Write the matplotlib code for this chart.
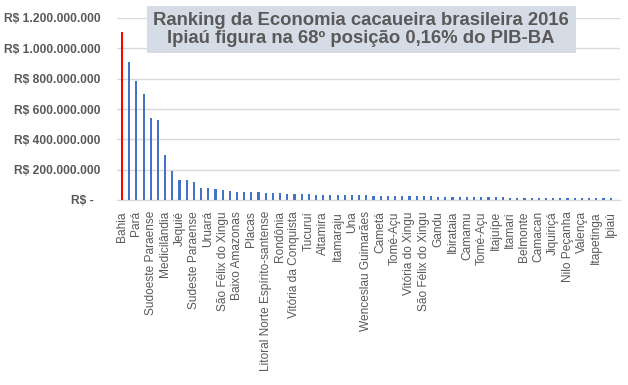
import numpy as np
import matplotlib
matplotlib.use("Agg")
import matplotlib.pyplot as plt
from matplotlib.patches import Rectangle

plt.rcParams['font.family'] = ['Liberation Sans', 'DejaVu Sans']

# valores em R$ (leitura aproximada do grafico), ordem do ranking
valores = [1108e6, 910e6, 785e6, 699e6, 541e6, 527e6, 297e6, 191e6, 132e6, 132e6,
           119e6, 79e6, 79e6, 72e6, 66e6, 59e6, 53e6, 53e6, 53e6, 53e6,
           46e6, 46e6, 46e6, 40e6, 40e6, 40e6, 40e6, 33e6, 33e6, 33e6,
           33e6, 33e6, 33e6, 33e6, 33e6, 26e6, 26e6, 26e6, 26e6, 26e6,
           26e6, 26e6, 26e6, 26e6, 20e6, 20e6, 20e6, 20e6, 20e6, 20e6,
           20e6, 20e6, 20e6, 20e6, 13e6, 13e6, 13e6, 13e6, 13e6, 13e6,
           13e6, 13e6, 13e6, 13e6, 13e6, 13e6, 13e6, 13e6, 13e6]

# rotulos visiveis (um a cada duas barras)
rotulos = ["Bahia", "Pará", "Sudoeste Paraense", "Medicilândia", "Jequié",
           "Sudeste Paraense", "Uruará", "São Félix do Xingu", "Baixo Amazonas",
           "Placas", "Litoral Norte Espírito-santense", "Rondônia",
           "Vitória da Conquista", "Tucuruí", "Altamira", "Itamaraju", "Una",
           "Wenceslau Guimarães", "Cametá", "Tomé-Açu", "Vitória do Xingu",
           "São Félix do Xingu", "Gandu", "Ibirataia", "Camamu", "Tomé-Açu",
           "Itajuípe", "Itamari", "Belmonte", "Camacan", "Jiquiriçá",
           "Nilo Peçanha", "Valença", "Itapetinga", "Ipiaú"]

yticks = [0, 200e6, 400e6, 600e6, 800e6, 1000e6, 1200e6]
ylabels = ["R$ -  ", "R$ 200.000.000", "R$ 400.000.000", "R$ 600.000.000",
           "R$ 800.000.000", "R$ 1.000.000.000", "R$ 1.200.000.000"]

titulo = "Ranking da Economia cacaueira brasileira 2016\nIpiaú figura na 68º posição 0,16% do PIB-BA"

cinza = "#595959"

fig = plt.figure(figsize=(6.28, 3.85), dpi=100)
ax = fig.add_axes([117/628, 1 - 200/385, 503/628, 182/385])

x = np.arange(len(valores))
cores = ["#FF0000"] + ["#4472C4"] * (len(valores) - 1)
ax.bar(x, valores, width=0.3, color=cores, zorder=2)

ax.set_xlim(-0.7, 69.3)
ax.set_ylim(0, 1.2e9)
ax.set_yticks(yticks)
ax.set_yticklabels(ylabels, fontsize=8.7, fontweight="bold", color=cinza)
ax.set_xticks(x[::2])
ax.set_xticklabels(rotulos, rotation=90, fontsize=8.6, color=cinza)
ax.tick_params(axis="y", length=0, pad=12)
ax.tick_params(axis="x", length=0, pad=8)
ax.grid(axis="y", color="#D9D9D9", linewidth=1, zorder=0)
for s in ["top", "right", "left"]:
    ax.spines[s].set_visible(False)
ax.spines["bottom"].set_color("#D9D9D9")

# caixa do titulo
fig.patches.append(Rectangle((147/628, 1 - 53/385), 429/628, 47/385,
                             transform=fig.transFigure, facecolor="#D6DCE5",
                             edgecolor="none", zorder=5))
fig.text(361/628, 1 - 29.5/385, titulo, ha="center", va="center",
         fontsize=13.3, fontweight="bold", color=cinza, zorder=6,
         linespacing=1.15)

fig.savefig("out.png", dpi=100)
